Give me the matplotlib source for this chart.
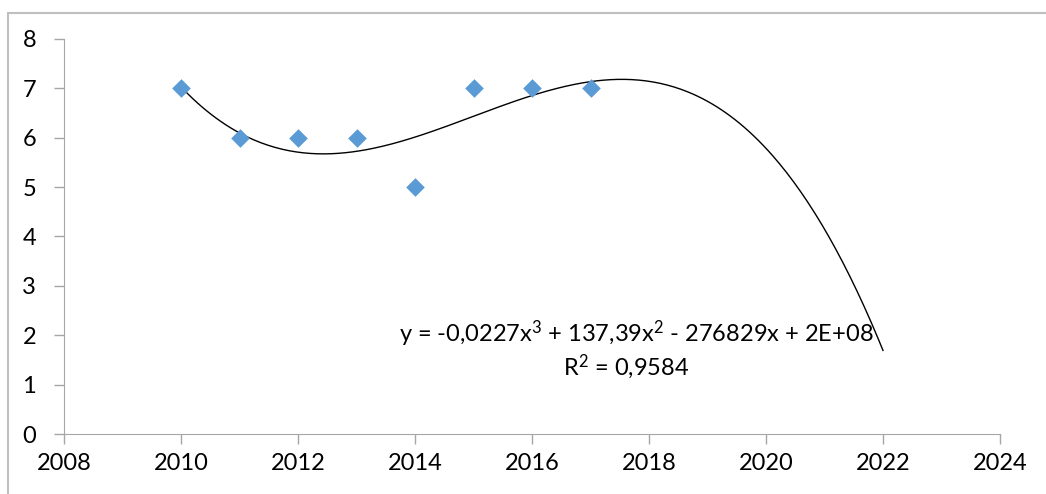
import numpy as np
import matplotlib.pyplot as plt
from matplotlib.patches import Rectangle

years = [2010, 2011, 2012, 2013, 2014, 2015, 2016, 2017]
values = [7, 6, 6, 6, 5, 7, 7, 7]
x_ticks = [2008, 2010, 2012, 2014, 2016, 2018, 2020, 2022, 2024]
y_ticks = [0, 1, 2, 3, 4, 5, 6, 7, 8]
eq_text = 'y = -0,0227x$^3$ + 137,39x$^2$ - 276829x + 2E+08'
r2_text = 'R$^2$ = 0,9584'

plt.rcParams['font.family'] = ['Lato', 'DejaVu Sans']
plt.rcParams['mathtext.fontset'] = 'custom'
plt.rcParams['mathtext.rm'] = 'Lato'
plt.rcParams['mathtext.it'] = 'Lato'
plt.rcParams['mathtext.default'] = 'regular'

fig = plt.figure(figsize=(10.46, 4.94), dpi=100)
ax = fig.add_axes([64/1046, 1 - 434/494, 936/1046, 395/494])

# cubic trendline, centered x for a stable fit
xc = np.array(years) - 2013.5
coef = np.polyfit(xc, values, 3)
xt = np.linspace(2010, 2022, 300)
ax.plot(xt, np.polyval(coef, xt - 2013.5), color='black', lw=1, zorder=2)

ax.scatter(years, values, marker='D', s=90, color='#5B9BD5', zorder=3, linewidths=0)

ax.set_xlim(2008, 2024)
ax.set_ylim(0, 8)
ax.set_xticks(x_ticks)
ax.set_yticks(y_ticks)
for s in ['top', 'right']:
    ax.spines[s].set_visible(False)
for s in ['left', 'bottom']:
    ax.spines[s].set_color('#a6a6a6')
ax.tick_params(axis='both', length=7, width=1, color='#a6a6a6', labelsize=17, pad=7)
ax.tick_params(axis='y', pad=13)

fig.text(636/1046, 1 - 334/494, eq_text, ha='center', va='center', fontsize=17)
fig.text(626/1046, 1 - 367/494, r2_text, ha='center', va='center', fontsize=17)

fig.patches.append(Rectangle((8/1046, -0.05), 1.1, 1 - 13/494 + 0.05, transform=fig.transFigure,
                             fill=False, edgecolor='#bfbfbf', lw=1.5))

fig.savefig('out.png', dpi=100)
